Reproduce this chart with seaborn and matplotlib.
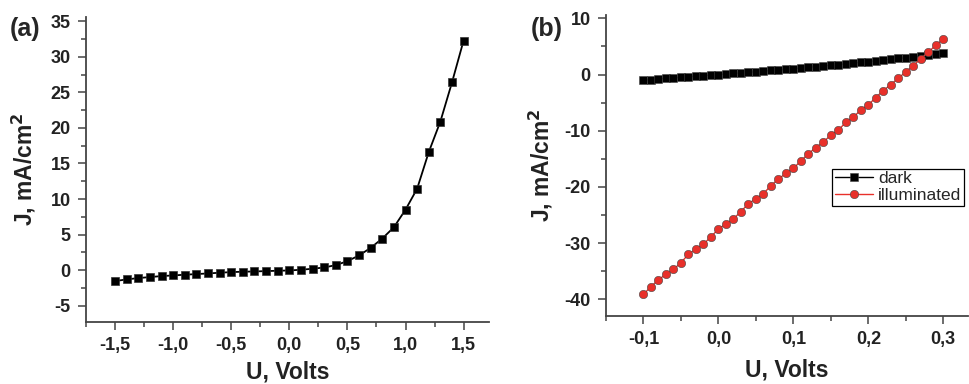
import numpy as np
import pandas as pd
import matplotlib
matplotlib.use('Agg')
import matplotlib.pyplot as plt
from matplotlib.ticker import MultipleLocator, FuncFormatter
import seaborn as sns

# panel (a): J-V curve over wide range
u_a = [-1.5, -1.4, -1.3, -1.2, -1.1, -1.0, -0.9, -0.8, -0.7, -0.6, -0.5,
       -0.4, -0.3, -0.2, -0.1, 0.0, 0.1, 0.2, 0.3, 0.4, 0.5,
       0.6, 0.7, 0.8, 0.9, 1.0, 1.1, 1.2, 1.3, 1.4, 1.5]
j_a = [-1.54, -1.31, -1.12, -0.98, -0.84, -0.75, -0.65, -0.56, -0.47, -0.37, -0.28,
       -0.23, -0.19, -0.14, -0.09, -0.05, 0.05, 0.19, 0.37, 0.70, 1.26,
       2.06, 3.13, 4.44, 6.03, 8.50, 11.45, 16.6, 20.9, 26.4, 32.3]

# panel (b): dark vs illuminated
u_b = [-0.10, -0.09, -0.08, -0.07, -0.06, -0.05, -0.04, -0.03, -0.02, -0.01,
       0.00, 0.01, 0.02, 0.03, 0.04, 0.05, 0.06, 0.07, 0.08, 0.09,
       0.10, 0.11, 0.12, 0.13, 0.14, 0.15, 0.16, 0.17, 0.18, 0.19,
       0.20, 0.21, 0.22, 0.23, 0.24, 0.25, 0.26, 0.27, 0.28, 0.29, 0.30]
j_dark = [-1.00, -0.90, -0.80, -0.70, -0.60, -0.50, -0.40, -0.30, -0.20, -0.10,
          0.00, 0.10, 0.20, 0.30, 0.40, 0.50, 0.61, 0.72, 0.83, 0.94,
          1.05, 1.16, 1.28, 1.40, 1.52, 1.64, 1.77, 1.90, 2.03, 2.16,
          2.30, 2.44, 2.58, 2.72, 2.86, 3.00, 3.15, 3.30, 3.45, 3.60, 3.75]
j_illum = [-39.1, -37.8, -36.5, -35.6, -34.7, -33.5, -32.0, -31.1, -30.2, -28.9,
           -27.5, -26.6, -25.7, -24.4, -23.0, -22.1, -21.2, -19.8, -18.6, -17.6,
           -16.7, -15.4, -14.1, -13.0, -12.0, -10.8, -9.9, -8.5, -7.6, -6.3,
           -5.4, -4.1, -2.85, -1.8, -0.65, 0.47, 1.6, 2.8, 4.0, 5.2, 6.35]

sns.set_style('ticks')
plt.rcParams['font.family'] = ['Liberation Sans', 'DejaVu Sans']
plt.rcParams['axes.unicode_minus'] = False

df_a = pd.DataFrame({'U': u_a, 'J': j_a})
df_b = pd.DataFrame({'U': u_b * 2, 'J': j_dark + j_illum,
                     'kind': ['dark'] * len(u_b) + ['illuminated'] * len(u_b)})

fig = plt.figure(figsize=(9.69, 3.84), dpi=100)
ax1 = fig.add_axes([0.0888, 0.1615, 0.416, 0.794])
ax2 = fig.add_axes([0.6254, 0.177, 0.3736, 0.784])

sns.lineplot(data=df_a, x='U', y='J', ax=ax1, color='black', lw=1.3,
             marker='s', markersize=5.2, markeredgecolor='#333333', markeredgewidth=0.5)

sns.lineplot(data=df_b, x='U', y='J', hue='kind', style='kind', ax=ax2,
             palette={'dark': 'black', 'illuminated': '#e8302a'},
             markers={'dark': 's', 'illuminated': 'o'}, dashes=False,
             lw=1.0, markersize=6, markeredgewidth=0.4, markeredgecolor='#444444')

comma1 = FuncFormatter(lambda v, p: ('%.1f' % v).replace('.', ','))

ax1.set_xlim(-1.75, 1.72)
ax1.set_ylim(-7.3, 35.6)
ax1.xaxis.set_major_locator(MultipleLocator(0.5))
ax1.xaxis.set_minor_locator(MultipleLocator(0.25))
ax1.yaxis.set_major_locator(MultipleLocator(5))
ax1.yaxis.set_minor_locator(MultipleLocator(2.5))
ax1.xaxis.set_major_formatter(comma1)

ax2.set_xlim(-0.15, 0.333)
ax2.set_ylim(-43, 10.6)
ax2.xaxis.set_major_locator(MultipleLocator(0.1))
ax2.xaxis.set_minor_locator(MultipleLocator(0.05))
ax2.yaxis.set_major_locator(MultipleLocator(10))
ax2.yaxis.set_minor_locator(MultipleLocator(5))
ax2.xaxis.set_major_formatter(comma1)

for ax in (ax1, ax2):
    sns.despine(ax=ax)
    for s in ('left', 'bottom'):
        ax.spines[s].set_color('#444444')
        ax.spines[s].set_linewidth(1.3)
    ax.tick_params(which='major', length=6, width=1.1, color='#444444',
                   labelsize=13, pad=5)
    ax.tick_params(which='minor', length=3.5, width=1.1, color='#444444')
    for t in ax.get_xticklabels() + ax.get_yticklabels():
        t.set_fontweight('bold')
        t.set_color('#222222')
    ax.set_xlabel('U, Volts', fontsize=16.5, fontweight='bold', color='#222222')
    ax.set_ylabel('J, mA/cm$^\\mathbf{2}$', fontsize=16.5, fontweight='bold', color='#222222')

ax1.xaxis.set_label_coords(0.5, -0.125)
ax1.yaxis.set_label_coords(-0.12, 0.5)
ax2.xaxis.set_label_coords(0.5, -0.14)
ax2.yaxis.set_label_coords(-0.14, 0.5)

fig.text(0.010, 0.905, '(a)', fontsize=18, fontweight='bold')
fig.text(0.548, 0.905, '(b)', fontsize=18, fontweight='bold')

leg = ax2.legend(loc='upper left', bbox_to_anchor=(0.625, 0.49), fontsize=12.5,
                 frameon=True, fancybox=False, edgecolor='black', framealpha=1,
                 borderpad=0.15, labelspacing=0.1, handlelength=2.2,
                 handletextpad=0.3, borderaxespad=0)
leg.get_frame().set_linewidth(0.9)

fig.savefig('out.png', dpi=100)
